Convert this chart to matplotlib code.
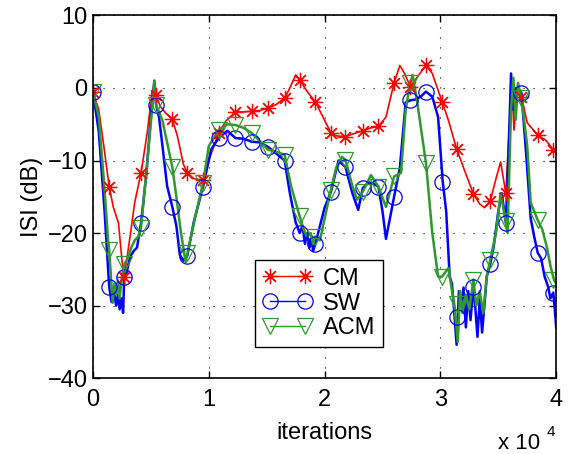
import numpy as np
import matplotlib
matplotlib.use('Agg')
import matplotlib.pyplot as plt
from matplotlib.lines import Line2D

plt.rcParams['font.family'] = ['Liberation Sans', 'DejaVu Sans']

# marker positions (iterations) shared by all three curves
mk_x = [0, 1400, 2700, 4150, 5450, 6850, 8150, 9500, 10850, 12300, 13700, 15100, 16550, 17850, 19200,
        20550, 21800, 23300, 24650, 26000, 27400, 28750, 30150, 31400, 32850, 34300, 35650, 37000, 38400, 39750]
cm_mk = [-0.5, -13.6, -26, -11.7, -1, -4.3, -11.7, -12.7, -6.2, -3.3, -3.2, -2.8, -1.4, 1.1, -1.9,
         -6.2, -6.7, -5.9, -5.3, 0.7, 0.2, 3.1, -1.9, -8.4, -14.6, -15.6, -14.5, -1.2, -6.5, -8.5]
sw_mk = [-0.5, -27.4, -26, -18.6, -2.3, -16.4, -23.1, -13.6, -6.9, -6.9, -7.4, -8.1, -10, -20, -21.5,
         -14.3, -10.9, -13.8, -13.6, -15, -1.7, -0.5, -12.9, -31.5, -27.4, -24.3, -18.6, -0.7, -22.7, -28.2]
acm_mk = [-0.5, -22.3, -24.3, -19.3, -2.3, -10.9, -22.8, -13.1, -5.8, -5.1, -6.2, -8.5, -9.2, -17.7, -20.5,
          -14, -9.9, -14.3, -13.6, -12.2, 0.7, -10.3, -26, -29.8, -26.4, -23.7, -18.4, -1.4, -18.2, -26.4]

# CM curve
cm_x = [0, 500, 900, 1400, 1750, 2200, 2500, 2700, 3200, 3600, 4150, 4700, 5100, 5450, 5800, 6300, 6850,
        7300, 7800, 8150, 8700, 9500, 10000, 10850, 11500, 12300, 13000, 13700, 14400, 15100, 15800, 16550,
        17000, 17500, 17850, 18500, 19200, 19700, 20550, 21000, 21800, 22500, 23300, 24000, 24650, 25300,
        26000, 26500, 26900, 27400, 28000, 28750, 29300, 30150, 30700, 31400, 32000, 32850, 33400, 33800,
        34300, 34800, 35200, 35650, 35900, 36200, 36350, 36700, 37000, 37500, 38400, 39100, 39750, 40000]
cm_y = [-0.5, -3, -7.6, -13.6, -16.4, -18.6, -23.7, -26, -20.5, -15.8, -11.7, -6, -0.5, -1, -2.5, -3.5, -4.3,
        -6.7, -10.5, -11.7, -12.5, -12.7, -10, -6.2, -4.5, -3.3, -3.3, -3.2, -3.1, -2.8, -2.3, -1.4,
        0, 1.8, 1.1, -0.5, -1.9, -3.5, -6.2, -6.6, -6.7, -6.3, -5.9, -5.5, -5.3, -4,
        0.7, 3.1, 2, 0.2, 1.5, 3.1, 2, -1.9, -4.5, -8.4, -11, -14.6, -16, -16.5,
        -15.6, -12.5, -10.2, -14.5, -7, -0.3, -5.8, 0, -1.2, -4.8, -6.5, -7.2, -8.5, -9]

# SW curve
sw_x = [0, 500, 1000, 1400, 1600, 1800, 2000, 2150, 2300, 2450, 2600, 2700, 2900, 3100, 3300, 3500, 3800,
        4150, 4600, 5000, 5300, 5450, 5700, 6000, 6400, 6850, 7200, 7500, 7800, 8150, 8700, 9500, 10200,
        10850, 11600, 12300, 13000, 13700, 14400, 15100, 15800, 16550, 17000, 17500, 17850, 18100, 18300,
        18500, 18700, 18900, 19000, 19200, 19600, 20000, 20550, 21200, 21800, 22400, 22900, 23300, 23800,
        24200, 24650, 25000, 25300, 26000, 26500, 27000, 27400, 27800, 28300, 28750, 29300, 29800, 30200,
        30500, 30800, 31000, 31200, 31400, 31600, 31800, 32000, 32200, 32400, 32600, 32850, 33000, 33200,
        33400, 33600, 33800, 34000, 34300, 34600, 35000, 35300, 35650, 35900, 36100, 36300, 36500, 37000,
        37400, 37800, 38100, 38400, 38700, 39000, 39300, 39500, 39750, 39900, 40000]
sw_y = [-0.5, -6, -17, -27.4, -29.5, -28, -30, -28.5, -30.5, -29, -31, -26, -25.5, -24, -23, -22.5, -22,
        -18.6, -12, -4, 1, -2.3, -4, -8, -13.5, -16.4, -19, -23, -23.8, -23.1, -18.5, -13.6, -8.5,
        -6.9, -5.9, -6.9, -7, -7.4, -7.5, -8.1, -9, -10, -14.5, -18.5, -20, -19, -21.5,
        -20, -22, -20.5, -22.5, -21.5, -19, -16.5, -14.3, -10, -10.9, -14.5, -16.8, -13.8, -13,
        -13.2, -13.6, -17, -20.8, -15, -11, -2, -1.7, -1.6, -1.2, -0.5, -1.2, -4, -12.9,
        -17, -26, -27, -31, -35.4, -28, -30, -27.5, -33, -28, -32, -27.4, -30, -34.3,
        -29, -33.7, -30, -26, -24.3, -21.9, -17, -14.5, -18.6, -8, 2, -3, 0, -0.7,
        -9, -18, -20.5, -22.7, -23.5, -26, -27.4, -29, -28.2, -31, -33]

# ACM curve
acm_x = [0, 500, 1000, 1300, 1400, 1550, 1700, 1850, 2000, 2150, 2300, 2500, 2700, 3000, 3300, 3600, 3900,
         4150, 4700, 5100, 5300, 5450, 6000, 6400, 6850, 7200, 7600, 8000, 8150, 8800, 9500, 10000, 10850,
         11600, 12300, 13000, 13700, 14400, 15100, 15800, 16550, 17100, 17850, 18200, 18500, 18800, 19000,
         19200, 19600, 20000, 20550, 21000, 21500, 21800, 22400, 22800, 23300, 24000, 24650, 25300, 26000,
         26600, 27000, 27400, 27600, 28000, 28750, 29300, 29800, 30150, 30700, 31000, 31200, 31500, 31700,
         31900, 32200, 32500, 32850, 33100, 33400, 33700, 34000, 34300, 34800, 35200, 35650, 35800, 36100,
         36300, 36500, 36700, 37000, 37500, 37800, 38400, 38800, 39200, 39500, 39800, 40000]
acm_y = [-0.5, -4, -14, -21, -22.3, -26, -29.6, -27, -28.5, -26.5, -29, -26, -24.3, -23.5, -22, -21, -20.5,
         -19.3, -10, -3, 1, -2.3, -4.5, -7.5, -10.9, -15, -20, -24, -22.8, -18, -13.1, -8, -5.8,
         -5, -5.1, -5.5, -6.2, -7.3, -8.5, -8.8, -9.2, -13.5, -17.7, -19.5, -20.5, -20, -21.5,
         -20.5, -21, -18, -14, -11, -9.5, -9.9, -13.5, -15.4, -14.3, -12, -13.6, -16.4, -12.2,
         -11.7, -3, 0.7, 1.8, -2, -10.3, -20, -26, -26, -24.8, -28, -29.8, -35, -28,
         -31, -28.5, -30.5, -26.4, -30, -28, -31, -26, -23.7, -20, -14.5, -18.4, -20, -3,
         1.4, -4.4, 0.7, -1.4, -8, -15.8, -18.2, -19.5, -22, -24.5, -26.4, -27]

labels = ['CM', 'SW', 'ACM']
colors = ['#ff0000', '#0000ff', '#2e9a2e']
markers = [(8, 2, 0), 'o', 'v']

fig = plt.figure(figsize=(5.74, 4.54), dpi=100)
ax = fig.add_axes([0.162, 0.167, 0.807, 0.799])

ax.plot(cm_x, cm_y, color=colors[0], lw=1.2)
ax.plot(sw_x, sw_y, color=colors[1], lw=1.8)
ax.plot(acm_x, acm_y, color=colors[2], lw=1.8)

ax.plot(mk_x, cm_mk, ls='none', marker=markers[0], ms=11, mew=0.9, color=colors[0])
ax.plot(mk_x, sw_mk, ls='none', marker=markers[1], ms=11, mew=0.9, mfc='none', color=colors[1])
ax.plot(mk_x, acm_mk, ls='none', marker=markers[2], ms=12, mew=0.9, mfc='none', color=colors[2])

ax.set_xlim(0, 40000)
ax.set_ylim(-40, 10)
ax.set_xticks([0, 10000, 20000, 30000, 40000])
ax.set_xticklabels(['0', '1', '2', '3', '4'])
ax.set_yticks([-40, -30, -20, -10, 0, 10])
ax.tick_params(direction='in', length=5, width=1, top=True, right=True, labelsize=17)
ax.tick_params(axis='x', pad=8)
ax.tick_params(axis='y', pad=4)
for s in ax.spines.values():
    s.set_linewidth(1.2)
ax.grid(True, color='black', linestyle=(0, (1, 8)), linewidth=0.8)

ax.set_xlabel('iterations', fontsize=17, labelpad=8)
ax.set_ylabel('ISI (dB)', fontsize=17, labelpad=3)
fig.text(0.868, 0.012, 'x 10', fontsize=16, ha='left', va='baseline')
fig.text(0.953, 0.04, '4', fontsize=11, ha='left', va='baseline')

handles = [Line2D([], [], color=c, lw=1, marker=m, ms=11, mfc='none' if i else c, mew=0.9)
           for i, (c, m) in enumerate(zip(colors, markers))]
leg = ax.legend(handles, labels, loc='upper left', bbox_to_anchor=(0.35, 0.326), fontsize=17,
                numpoints=2, handlelength=2.1, handletextpad=0.45, labelspacing=0.12,
                borderpad=0.33, borderaxespad=0, fancybox=False, framealpha=1, edgecolor='black')
leg.get_frame().set_linewidth(1.0)

fig.savefig('out.png', dpi=100)
